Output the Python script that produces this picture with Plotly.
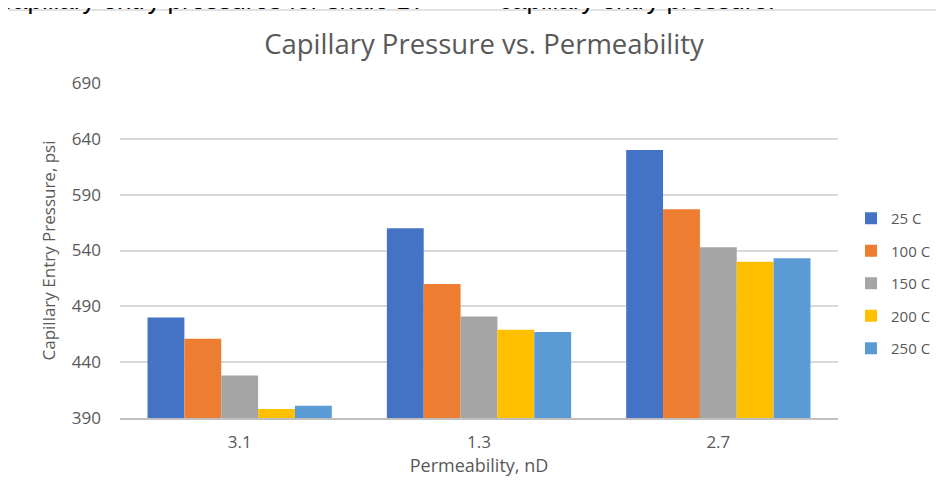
import plotly.graph_objects as go

categories = ["3.1", "1.3", "2.7"]
series_names = ["25 C", "100 C", "150 C", "200 C", "250 C"]
values_25 = [480, 560, 630]
values_100 = [461, 510, 577]
values_150 = [428, 481, 543]
values_200 = [398, 469, 530]
values_250 = [401, 467, 533]
colors = ["#4472C4", "#ED7D31", "#A5A5A5", "#FFC000", "#5B9BD5"]
y_ticks = [390, 440, 490, 540, 590, 640, 690]

all_values = [values_25, values_100, values_150, values_200, values_250]

FONT = "Open Sans, Lato, sans-serif"
GREY = "#595959"

fig = go.Figure()
for i, (name, vals) in enumerate(zip(series_names, all_values)):
    fig.add_trace(go.Bar(
        x=categories, y=vals, name=name,
        marker=dict(color=colors[i], line=dict(width=0)),
        legendgroup=name,
    ))

# page body has an 8px margin: figure pixel = screen pixel - 8
OFF = 8
W, H = 944 - 2 * OFF, 485
L, T = 120 - OFF, 83 - OFF
R = W - (838 - OFF)
B = H - (418 - OFF)
pw, ph = W - L - R, H - T - B

def px_x(s):
    return (s - OFF - L) / pw

def px_y(s):
    return (H - B - (s - OFF)) / ph

fig.update_layout(
    width=W, height=H,
    margin=dict(l=L, r=R, t=T, b=B, autoexpand=False),
    paper_bgcolor="white", plot_bgcolor="white",
    barmode="group", bargap=0.23, bargroupgap=0,
    font=dict(family=FONT, color=GREY, size=17),
    title=dict(text="Capillary Pressure vs. Permeability", xref="container",
               x=(484 - OFF) / W, xanchor="center",
               yref="container", y=1 - (44 - OFF) / H, yanchor="middle",
               font=dict(size=27.5, color=GREY, family=FONT)),
    xaxis=dict(
        type="category", showgrid=False, showline=True, linecolor="#BFBFBF", linewidth=2,
        ticks="", tickfont=dict(size=17, color=GREY, family=FONT), ticklabelstandoff=8,
        title=dict(text="Permeability, nD", font=dict(size=18, color=GREY, family=FONT), standoff=6),
    ),
    yaxis=dict(
        range=[390, 690], tickvals=y_ticks, ticktext=[str(v) for v in y_ticks],
        showgrid=True, gridcolor="#D9D9D9", gridwidth=1.5, zeroline=False, showline=False,
        ticks="", tickfont=dict(size=17, color=GREY, family=FONT), ticklabelstandoff=18,
        title=dict(text="Capillary Entry Pressure, psi", font=dict(size=17, color=GREY, family=FONT), standoff=11),
    ),
    legend=dict(
        x=px_x(936), xanchor="right", y=px_y(283.5), yanchor="middle",
        font=dict(size=15, color=GREY, family=FONT), tracegroupgap=10,
        itemwidth=30, bgcolor="rgba(0,0,0,0)",
    ),
    showlegend=True,
)

# outer chart border (top and left edges visible)
border = dict(color="#D9D9D9", width=1.5)
fig.add_shape(type="line", xref="paper", yref="paper",
              x0=px_x(4), x1=px_x(960), y0=px_y(10), y1=px_y(10), line=border, layer="above")
fig.add_shape(type="line", xref="paper", yref="paper",
              x0=px_x(4), x1=px_x(4), y0=px_y(10), y1=px_y(520), line=border, layer="above")

# cut-off text from the surrounding document
doc_font = dict(family="Liberation Sans, Arial", size=26, color="black")
fig.add_annotation(text="capillary entry pressures for shale B.", xref="paper", yref="paper",
                   x=px_x(-1), xanchor="left", y=px_y(16), yanchor="bottom", showarrow=False,
                   borderpad=0, font=doc_font)
fig.add_annotation(text="capillary entry pressure.", xref="paper", yref="paper",
                   x=px_x(498), xanchor="left", y=px_y(16), yanchor="bottom", showarrow=False,
                   borderpad=0, font=doc_font)

fig.write_html("out.html")
